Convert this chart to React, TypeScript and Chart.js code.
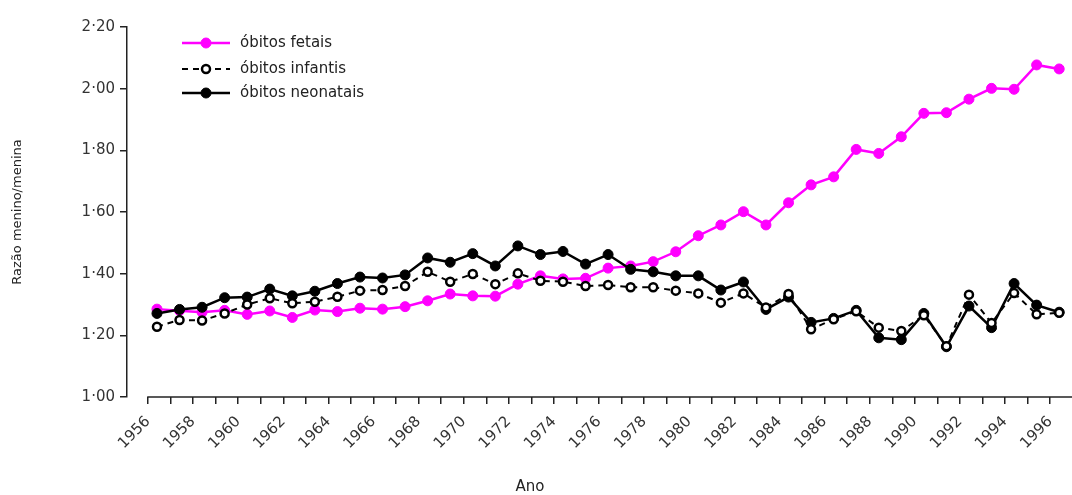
import React, { useEffect, useRef } from 'react';
import { Chart, registerables } from 'chart.js';

Chart.register(...registerables);

const YEARS = [
  1956, 1957, 1958, 1959, 1960, 1961, 1962, 1963, 1964, 1965,
  1966, 1967, 1968, 1969, 1970, 1971, 1972, 1973, 1974, 1975,
  1976, 1977, 1978, 1979, 1980, 1981, 1982, 1983, 1984, 1985,
  1986, 1987, 1988, 1989, 1990, 1991, 1992, 1993, 1994, 1995, 1996,
];

const FETAIS = [
  1.285, 1.28, 1.275, 1.281, 1.268, 1.279, 1.258, 1.282, 1.277, 1.288,
  1.285, 1.293, 1.312, 1.334, 1.328, 1.327, 1.366, 1.393, 1.383, 1.385,
  1.418, 1.425, 1.439, 1.471, 1.523, 1.558, 1.601, 1.558, 1.63, 1.688,
  1.714, 1.803, 1.79, 1.844, 1.92, 1.922, 1.966, 2.001, 1.998, 2.077, 2.064,
];

const INFANTIS = [
  1.228, 1.25, 1.248, 1.271, 1.3, 1.32, 1.304, 1.309, 1.325, 1.345,
  1.347, 1.36, 1.406, 1.374, 1.399, 1.366, 1.401, 1.377, 1.374, 1.36,
  1.363, 1.356, 1.356, 1.345, 1.336, 1.306, 1.336, 1.29, 1.334, 1.22,
  1.252, 1.278, 1.225, 1.214, 1.265, 1.165, 1.332, 1.24, 1.337, 1.268, 1.273,
];

const NEONATAIS = [
  1.271, 1.284, 1.291, 1.322, 1.324, 1.35, 1.328, 1.343, 1.368, 1.389,
  1.386, 1.396, 1.451, 1.437, 1.465, 1.425, 1.49, 1.462, 1.472, 1.431,
  1.462, 1.414, 1.406, 1.393, 1.393, 1.347, 1.373, 1.284, 1.324, 1.242,
  1.255, 1.281, 1.192, 1.186, 1.271, 1.163, 1.295, 1.225, 1.368, 1.298, 1.275,
];

const SERIES_LABELS = ['óbitos fetais', 'óbitos infantis', 'óbitos neonatais'];
const Y_TITLE = 'Razão menino/menina';
const X_TITLE = 'Ano';
const Y_MIN = 1.0;
const Y_MAX = 2.2;
const Y_STEP = 0.2;

const X_SHIFT = 0.4;
const X_MIN = 1955.071;
const X_MAX = 1996.35;
const FONT = '"DejaVu Sans", sans-serif';

const insetLegend = {
  id: 'insetLegend',
  afterDraw(chart: any) {
    const ctx = chart.ctx;
    const rows = [43, 69, 93];
    ctx.save();
    chart.data.datasets.forEach((ds: any, i: number) => {
      const y = rows[i];
      ctx.beginPath();
      ctx.setLineDash(ds.borderDash || []);
      ctx.lineWidth = ds.borderWidth;
      ctx.strokeStyle = ds.borderColor;
      ctx.moveTo(182, y);
      ctx.lineTo(230, y);
      ctx.stroke();
      ctx.setLineDash([]);
      ctx.beginPath();
      ctx.arc(206, y, ds.pointRadius, 0, Math.PI * 2);
      ctx.fillStyle = ds.pointBackgroundColor;
      ctx.fill();
      ctx.lineWidth = ds.pointBorderWidth;
      ctx.strokeStyle = ds.pointBorderColor;
      ctx.stroke();
      ctx.fillStyle = '#222';
      ctx.font = `15px ${FONT}`;
      ctx.textBaseline = 'middle';
      ctx.textAlign = 'left';
      ctx.fillText(ds.label, 240, y);
    });
    ctx.restore();
  },
};

const xAxisLine = {
  id: 'xAxisLine',
  beforeDatasetsDraw(chart: any) {
    const ctx = chart.ctx;
    const xs = chart.scales.x;
    const y0 = chart.chartArea.bottom;
    ctx.save();
    ctx.beginPath();
    ctx.lineWidth = 1.5;
    ctx.strokeStyle = '#222';
    ctx.moveTo(xs.getPixelForValue(YEARS[0]) - 0.75, y0);
    ctx.lineTo(chart.width, y0);
    ctx.stroke();
    ctx.restore();
  },
};

export default function App() {
  const ref = useRef<HTMLCanvasElement | null>(null);

  useEffect(() => {
    if (!ref.current) return;
    const pts = (arr: number[]) => YEARS.map((yr, i) => ({ x: yr + X_SHIFT, y: arr[i] }));
    const chart = new Chart(ref.current, {
      type: 'line',
      data: {
        datasets: [
          {
            label: SERIES_LABELS[0],
            data: pts(FETAIS),
            borderColor: '#ff00ff',
            backgroundColor: '#ff00ff',
            borderWidth: 2.5,
            pointRadius: 5,
            pointBackgroundColor: '#ff00ff',
            pointBorderColor: '#ff00ff',
            pointBorderWidth: 1,
            order: 3,
            clip: false,
          },
          {
            label: SERIES_LABELS[1],
            data: pts(INFANTIS),
            borderColor: '#000',
            backgroundColor: '#fff',
            borderWidth: 2,
            borderDash: [6, 5],
            pointRadius: 4,
            pointBackgroundColor: '#fff',
            pointBorderColor: '#000',
            pointBorderWidth: 2.5,
            order: 1,
            clip: false,
          },
          {
            label: SERIES_LABELS[2],
            data: pts(NEONATAIS),
            borderColor: '#000',
            backgroundColor: '#000',
            borderWidth: 2.5,
            pointRadius: 5,
            pointBackgroundColor: '#000',
            pointBorderColor: '#000',
            pointBorderWidth: 1,
            order: 2,
            clip: false,
          },
        ] as any,
      },
      options: {
        responsive: false,
        animation: false,
        layout: { padding: { top: 27, right: 12, left: 0, bottom: 0 } },
        plugins: {
          legend: { display: false },
          tooltip: { enabled: false },
          title: {
            display: true,
            text: X_TITLE,
            position: 'bottom',
            color: '#222',
            font: { family: FONT, size: 15, weight: 'normal', lineHeight: 1 },
            padding: 0,
          },
        },
        scales: {
          x: {
            type: 'linear',
            min: X_MIN,
            max: X_MAX,
            border: { display: false },
            grid: { drawOnChartArea: false, drawTicks: true, tickLength: 7, color: '#222', lineWidth: 1.5 },
            ticks: {
              stepSize: 1,
              autoSkip: false,
              includeBounds: false,
              maxTicksLimit: 100,
              maxRotation: 45,
              minRotation: 45,
              padding: 9,
              color: '#333',
              font: { family: FONT, size: 15 },
              callback: (v: any) => {
                const n = Math.round(Number(v));
                return n % 2 === 0 ? String(n) : '';
              },
            },
            afterFit: (s: any) => {
              s.height = 83;
            },
          },
          y: {
            min: Y_MIN,
            max: Y_MAX,
            border: { display: true, color: '#222', width: 1.5 },
            grid: { drawOnChartArea: false, drawTicks: true, tickLength: 7, color: '#222', lineWidth: 1.5 },
            ticks: {
              stepSize: Y_STEP,
              padding: 5,
              color: '#333',
              font: { family: FONT, size: 15 },
              callback: (v: any) => Number(v).toFixed(2).replace('.', '·'),
            },
            title: {
              display: true,
              text: Y_TITLE,
              color: '#222',
              font: { family: FONT, size: 13 },
              padding: { top: 10, bottom: 0 },
            },
            afterFit: (s: any) => {
              s.width = 127;
            },
          },
        },
      } as any,
      plugins: [xAxisLine, insetLegend],
    });
    return () => chart.destroy();
  }, []);

  return (
    <div style={{ position: 'absolute', left: 0, top: 0, width: 1072, height: 495, background: '#fff' }}>
      <canvas ref={ref} width={1072} height={495} />
    </div>
  );
}
